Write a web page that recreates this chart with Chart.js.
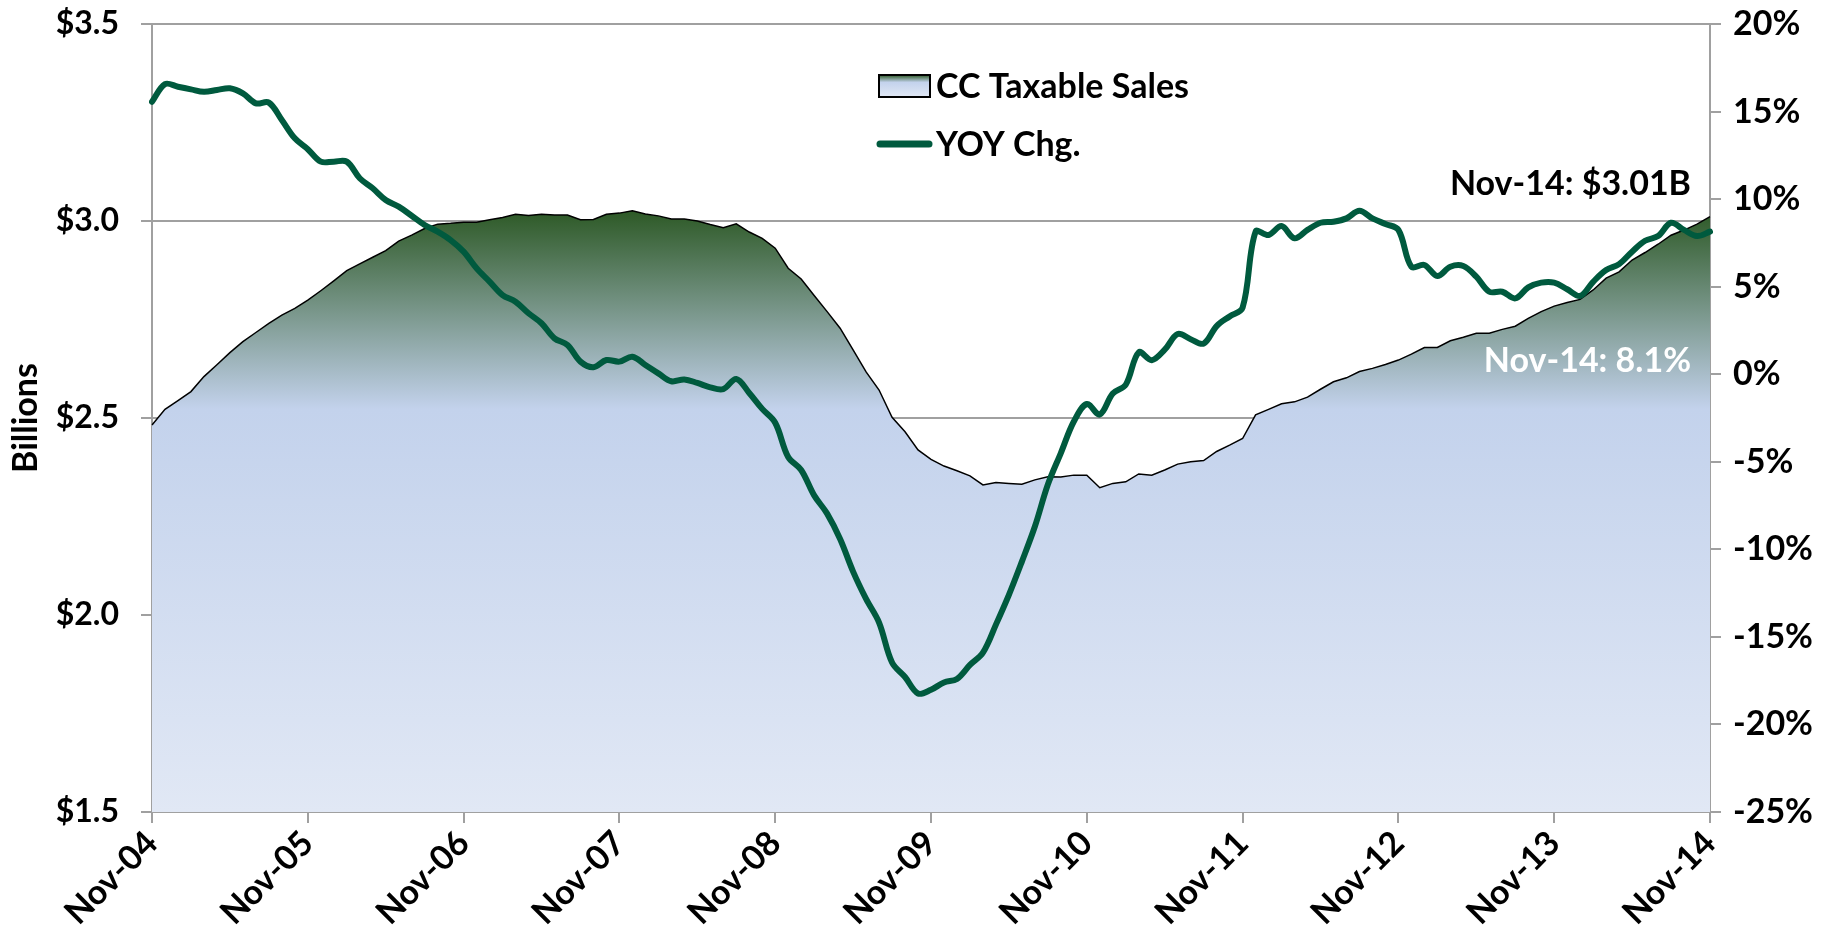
<!DOCTYPE html>
<html lang="en">
<head>
    <meta charset="UTF-8">
    <title>CC Taxable Sales</title>
    <script src="https://cdn.jsdelivr.net/npm/chart.js"></script>
    <style>
        * { box-sizing: border-box; }
        body { margin: 0; padding: 0; background: #fff; }
        .wrap { position: relative; width: 1839px; height: 940px; }
    </style>
</head>
<body>
    <div class="wrap"><canvas id="salesChart"></canvas></div>

    <script>
        // monthly, Nov-04 .. Nov-14
        const monthNames = ['Jan', 'Feb', 'Mar', 'Apr', 'May', 'Jun', 'Jul', 'Aug', 'Sep', 'Oct', 'Nov', 'Dec'];
        const xTickLabels = ['Nov-04', 'Nov-05', 'Nov-06', 'Nov-07', 'Nov-08', 'Nov-09',
                             'Nov-10', 'Nov-11', 'Nov-12', 'Nov-13', 'Nov-14'];

        // taxable sales, $ billions
        const salesBillions = [
            2.482, 2.522, 2.544, 2.567, 2.605, 2.635, 2.666, 2.694, 2.717, 2.740, 2.761, 2.778,
            2.799, 2.823, 2.848, 2.874, 2.891, 2.908, 2.925, 2.949, 2.964, 2.981, 2.992, 2.994,
            2.997, 2.997, 3.003, 3.009, 3.017, 3.014, 3.017, 3.015, 3.015, 3.003, 3.004, 3.017,
            3.020, 3.026, 3.018, 3.013, 3.005, 3.005, 3.000, 2.991, 2.983, 2.993, 2.972, 2.956,
            2.931, 2.880, 2.853, 2.811, 2.770, 2.728, 2.673, 2.617, 2.571, 2.502, 2.465, 2.419,
            2.395, 2.378, 2.366, 2.353, 2.330, 2.336, 2.334, 2.332, 2.343, 2.351, 2.350, 2.355,
            2.355, 2.323, 2.334, 2.338, 2.358, 2.355, 2.368, 2.383, 2.389, 2.392, 2.415, 2.431,
            2.448, 2.508, 2.522, 2.536, 2.541, 2.553, 2.573, 2.592, 2.602, 2.618, 2.626, 2.636,
            2.647, 2.662, 2.679, 2.679, 2.696, 2.705, 2.715, 2.715, 2.725, 2.733, 2.753, 2.770,
            2.784, 2.793, 2.801, 2.825, 2.855, 2.871, 2.901, 2.920, 2.941, 2.964, 2.977, 2.992,
            3.011
        ];

        // year over year change, %
        const yoyPct = [
            15.56, 16.57, 16.42, 16.27, 16.13, 16.23, 16.33, 16.04, 15.47, 15.51, 14.52, 13.47,
            12.85, 12.14, 12.14, 12.14, 11.19, 10.62, 9.95, 9.57, 9.05, 8.52, 8.14, 7.66,
            7.00, 6.05, 5.29, 4.52, 4.14, 3.48, 2.91, 2.05, 1.67, 0.72, 0.40, 0.81,
            0.72, 1.00, 0.53, 0.05, -0.40, -0.30, -0.50, -0.75, -0.85, -0.27, -1.07, -1.98,
            -2.77, -4.73, -5.47, -6.92, -7.96, -9.41, -11.27, -12.83, -14.18, -16.46, -17.29, -18.23,
            -18.02, -17.60, -17.40, -16.60, -15.90, -14.30, -12.60, -10.70, -8.70, -6.30, -4.50, -2.70,
            -1.70, -2.30, -1.10, -0.60, 1.25, 0.80, 1.40, 2.30, 2.00, 1.75, 2.75, 3.30,
            3.80, 8.14, 7.95, 8.46, 7.76, 8.24, 8.65, 8.71, 8.90, 9.34, 8.90, 8.58,
            8.24, 6.14, 6.24, 5.61, 6.14, 6.18, 5.57, 4.71, 4.71, 4.33, 4.96, 5.23,
            5.23, 4.85, 4.47, 5.28, 5.95, 6.29, 7.00, 7.62, 7.89, 8.65, 8.24, 7.89,
            8.14
        ];

        const labels = salesBillions.map((_, i) => {
            const m = 10 + i;
            const yy = String(4 + Math.floor(m / 12)).padStart(2, '0');
            return monthNames[m % 12] + '-' + yy;
        });

        const FONT = 'Lato, "Open Sans", sans-serif';
        const FSIZE = 34;
        const GRID = '#a0a0a0';
        const LINE_GREEN = '#005a3e';

        Chart.defaults.font.family = FONT;
        Chart.defaults.font.weight = 'bold';
        Chart.defaults.font.size = FSIZE;
        Chart.defaults.color = '#000';

        function areaGradient(ctx, top, bottom) {
            const g = ctx.createLinearGradient(0, top, 0, bottom);
            g.addColorStop(0, '#2d5926');
            g.addColorStop(0.33, '#c3d2ec');
            g.addColorStop(1, '#e1e8f5');
            return g;
        }

        // keep the plot top where the reference has it (labels may overhang)
        function fixWidth(w) {
            return scale => {
                scale.width = w;
                scale.paddingTop = 0;
                scale.paddingBottom = 0;
            };
        }

        // legend + end-point notes drawn inside the plot
        const overlay = {
            id: 'overlay',
            afterDatasetsDraw(chart) {
                const ctx = chart.ctx;
                const right = chart.chartArea.right - 19;
                ctx.save();
                ctx.font = 'bold ' + FSIZE + 'px ' + FONT;
                ctx.textBaseline = 'alphabetic';

                // legend
                ctx.fillStyle = areaGradient(ctx, 75, 97);
                ctx.fillRect(879, 75, 51, 22);
                ctx.strokeStyle = '#000';
                ctx.lineWidth = 2;
                ctx.strokeRect(879, 75, 51, 22);
                ctx.fillStyle = '#000';
                ctx.textAlign = 'left';
                ctx.fillText('CC Taxable Sales', 936, 98);

                ctx.beginPath();
                ctx.moveTo(880, 144);
                ctx.lineTo(929, 144);
                ctx.strokeStyle = LINE_GREEN;
                ctx.lineWidth = 7;
                ctx.lineCap = 'round';
                ctx.stroke();
                ctx.fillText('YOY Chg.', 936, 156);

                // notes
                ctx.textAlign = 'right';
                ctx.fillStyle = '#000';
                ctx.fillText('Nov-14: $3.01B', right, 195);
                ctx.fillStyle = '#fff';
                ctx.fillText('Nov-14: 8.1%', right, 372);
                ctx.restore();
            }
        };

        new Chart(document.getElementById('salesChart'), {
            type: 'line',
            data: {
                labels: labels,
                datasets: [
                    {
                        label: 'YOY Chg.',
                        data: yoyPct,
                        yAxisID: 'y2',
                        borderColor: LINE_GREEN,
                        borderWidth: 6,
                        pointRadius: 0,
                        tension: 0.35,
                        borderCapStyle: 'round',
                        borderJoinStyle: 'round',
                        fill: false,
                        order: 0
                    },
                    {
                        label: 'CC Taxable Sales',
                        data: salesBillions,
                        yAxisID: 'y',
                        borderColor: '#000',
                        borderWidth: 1.5,
                        pointRadius: 0,
                        tension: 0,
                        fill: 'start',
                        backgroundColor(c) {
                            const chart = c.chart;
                            if (!chart.chartArea) return '#c3d2ec';
                            const top = chart.scales.y.getPixelForValue(Math.max(...salesBillions));
                            return areaGradient(chart.ctx, top, chart.chartArea.bottom);
                        },
                        order: 1
                    }
                ]
            },
            options: {
                responsive: true,
                maintainAspectRatio: false,
                animation: false,
                layout: { padding: { top: 24, left: 0, right: 0, bottom: 0 } },
                plugins: {
                    legend: { display: false },
                    tooltip: { enabled: false }
                },
                scales: {
                    x: {
                        grid: {
                            drawOnChartArea: false,
                            color: GRID,
                            lineWidth: 2,
                            tickLength: 11
                        },
                        border: { color: GRID, width: 2 },
                        ticks: {
                            autoSkip: false,
                            maxRotation: 45,
                            minRotation: 45,
                            padding: 0,
                            callback(v, i) {
                                const lab = labels[i];
                                return xTickLabels.includes(lab) ? lab : null;
                            }
                        },
                        afterFit(scale) { scale.height = 128; }
                    },
                    y: {
                        position: 'left',
                        min: 1.5,
                        max: 3.5,
                        grid: { color: GRID, lineWidth: 2, tickLength: 11 },
                        border: { color: GRID, width: 2 },
                        ticks: {
                            stepSize: 0.5,
                            padding: 22,
                            font: { size: 32 },
                            callback: v => '$' + v.toFixed(1)
                        },
                        title: {
                            display: true,
                            text: 'Billions',
                            padding: { top: 6, bottom: 0 }
                        },
                        afterFit: fixWidth(152)
                    },
                    y2: {
                        position: 'right',
                        min: -25,
                        max: 20,
                        grid: { drawOnChartArea: false, color: GRID, lineWidth: 2, tickLength: 11 },
                        border: { color: GRID, width: 2 },
                        ticks: {
                            stepSize: 5,
                            padding: 12,
                            callback: v => v + '%'
                        },
                        afterFit: fixWidth(129)
                    }
                }
            },
            plugins: [overlay]
        });
    </script>
</body>
</html>
